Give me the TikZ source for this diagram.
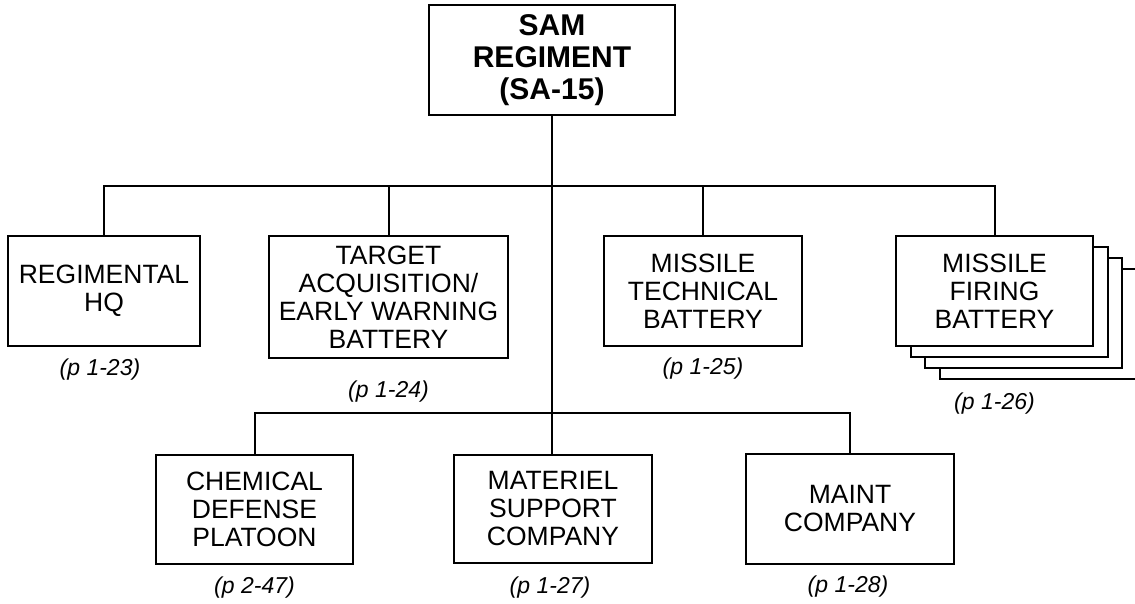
\documentclass[tikz,border=0pt]{standalone}
\usepackage{fontspec}
\setmainfont{Liberation Sans}
\usetikzlibrary{positioning}

\tikzset{
  unit/.style={draw, line width=2pt, fill=white, align=center, inner sep=0pt,
    minimum width=197pt, minimum height=110pt, font=\fontsize{26.5}{28}\selectfont},
  pageref/.style={inner sep=0pt, font=\fontsize{23}{26}\selectfont\itshape},
  link/.style={line width=2pt},
}

\begin{document}
\begin{tikzpicture}[x=1pt, y=-1pt]
    \useasboundingbox (0,0) rectangle (1135,604);

    \node[unit, minimum width=246pt, font=\fontsize{30}{32}\selectfont\bfseries] (reg) at (552,60) {SAM\\REGIMENT\\(SA-15)};

    % first echelon
    \node[unit, minimum width=192pt] (hq) at (104,291) {REGIMENTAL\\HQ};
    \node[unit, minimum width=239pt, minimum height=122pt] (taew) at (388.5,297) {TARGET\\ACQUISITION/\\EARLY WARNING\\BATTERY};
    \node[unit, minimum width=198pt] (mtb) at (703,291) {MISSILE\\TECHNICAL\\BATTERY};
    \foreach \k in {3,2,1}
        \draw[link, fill=white] (896+\k*14.5,236+\k*11) rectangle ++(197,110);
    \node[unit] (mfb) at (994.5,291) {MISSILE\\FIRING\\BATTERY};

    % second echelon
    \node[unit, minimum height=109pt] (chem) at (254.5,509.5) {CHEMICAL\\DEFENSE\\PLATOON};
    \node[unit, minimum width=198pt, minimum height=108pt] (msc) at (553,509) {MATERIEL\\SUPPORT\\COMPANY};
    \node[unit, minimum width=208pt] (maint) at (850,509) {MAINT\\COMPANY};

    \node[pageref, below=11.2pt of hq, xshift=-4pt] (hqp) {(p 1-23)};
    \node[pageref, below=21.2pt of taew] (taewp) {(p 1-24)};
    \node[pageref, below=10.2pt of mtb] (mtbp) {(p 1-25)};
    \node[pageref, below=45.2pt of mfb] (mfbp) {(p 1-26)};
    \node[pageref, below=11.2pt of chem] (chemp) {(p 2-47)};
    \node[pageref, below=12.2pt of msc, xshift=-3pt] (mscp) {(p 1-27)};
    \node[pageref, below=10.2pt of maint, xshift=-2pt] (maintp) {(p 1-28)};

    \coordinate (bus1) at (552,186);
    \coordinate (bus2) at (552,413);
    \draw[link] (reg.south) -- (reg.south |- msc.north);
    \draw[link] (hq.north) |- (mfb.north |- bus1) -- (mfb.north);
    \draw[link] (taew.north) -- (taew.north |- bus1);
    \draw[link] (mtb.north) -- (mtb.north |- bus1);
    \draw[link] (chem.north) |- (maint.north |- bus2) -- (maint.north);
\end{tikzpicture}
\end{document}
